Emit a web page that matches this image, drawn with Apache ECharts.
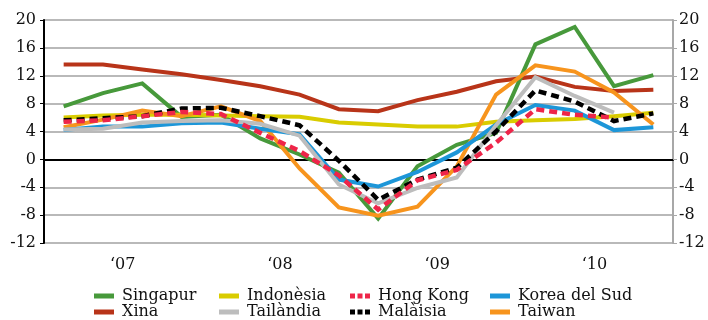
<!DOCTYPE html>
<html>
<head>
<meta charset="utf-8">
<script src="https://cdn.jsdelivr.net/npm/echarts@6/dist/echarts.min.js"></script>
<style>
  html, body { margin: 0; padding: 0; background: #fff; }
  #chart { width: 708px; height: 320px; }
</style>
</head>
<body>
<div id="chart"></div>
<script>
// Quarterly growth, 2007–2010
const quarters = ['2007T1','2007T2','2007T3','2007T4','2008T1','2008T2','2008T3','2008T4',
                  '2009T1','2009T2','2009T3','2009T4','2010T1','2010T2','2010T3','2010T4'];
const years = ['\u201807', '\u201808', '\u201809', '\u201810'];
const yTicks = { min: -12, max: 20, step: 4 };

const singapur  = [7.6, 9.5, 10.9, 6.1, 6.4, 3.0, 0.7, -1.9, -8.5, -1.0, 2.1, 3.8, 16.5, 19.0, 10.5, 12.1];
const xina      = [13.6, 13.6, 12.9, 12.2, 11.4, 10.5, 9.3, 7.2, 6.9, 8.5, 9.7, 11.2, 11.9, 10.4, 9.8, 10.0];
const indonesia = [6.0, 6.3, 6.4, 6.4, 6.3, 6.2, 6.1, 5.3, 5.0, 4.7, 4.7, 5.4, 5.6, 5.8, 6.2, 6.7];
const tailandia = [4.3, 4.4, 5.3, 5.5, 5.6, 5.1, 3.4, -3.6, -6.3, -4.1, -2.6, 4.9, 11.8, 9.1, 6.7, null];
const hongKong  = [5.4, 5.6, 6.2, 6.8, 6.5, 3.8, 1.2, -2.3, -7.2, -3.0, -1.5, 2.4, 7.2, 6.4, 6.0, null];
const malaisia  = [5.6, 5.9, 6.2, 7.3, 7.4, 6.2, 4.9, -0.2, -5.8, -2.9, -1.2, 4.0, 9.9, 8.3, 5.5, 6.6];
const korea     = [4.2, 4.7, 4.7, 5.2, 5.3, 4.4, 3.6, -2.9, -3.9, -1.8, 1.0, 5.0, 7.8, 7.0, 4.2, 4.6];
const taiwan    = [4.6, 5.7, 7.0, 6.2, 7.6, 5.5, -1.3, -6.9, -8.1, -6.8, -1.0, 9.3, 13.5, 12.6, 9.6, 5.0];

const FONT = 'DejaVu Serif';
const COLORS = {
  'Singapur': '#47993b',
  'Xina': '#b83419',
  'Indonèsia': '#d9cc00',
  'Tailàndia': '#bdbdbd',
  'Hong Kong': '#ee2549',
  'Malàisia': '#000000',
  'Korea del Sud': '#1d96d8',
  'Taiwan': '#f7941d'
};

function lineSeries(name, data, dashed) {
  return {
    name: name,
    type: 'line',
    data: data,
    symbol: 'none',
    connectNulls: false,
    color: COLORS[name],
    lineStyle: {
      color: COLORS[name],
      width: dashed ? 4.5 : 4,
      type: dashed ? [8, 5] : 'solid',
      cap: 'butt',
      join: 'miter'
    }
  };
}

// legend keys: a flat bar for solid lines, three squares for dotted ones
const dotsIcon = 'path://M0,0h5v5h-5z M7.5,0h5v5h-5z M15,0h5v5h-5z';
const barIcon = 'path://M0,0h20v5h-20z';

function legendColumn(left, names) {
  return {
    orient: 'vertical',
    left: left,
    top: 288,
    itemWidth: 20,
    itemHeight: 5,
    itemGap: 0,
    padding: 0,
    selectedMode: false,
    itemStyle: { borderWidth: 0 },
    lineStyle: { width: 0 },
    textStyle: { fontFamily: FONT, fontSize: 16, color: '#111', lineHeight: 16, padding: [0, 0, 0, 3] },
    data: names.map(n => ({
      name: n,
      icon: (n === 'Hong Kong' || n === 'Malàisia') ? dotsIcon : barIcon,
      itemStyle: { color: COLORS[n], borderWidth: 0 }
    }))
  };
}

const chart = echarts.init(document.getElementById('chart'), null, { renderer: 'canvas' });

chart.setOption({
  animation: false,
  backgroundColor: '#fff',
  grid: { left: 44, right: 35, top: 20, bottom: 77, containLabel: false },
  legend: [
    legendColumn(94, ['Singapur', 'Xina']),
    legendColumn(219, ['Indonèsia', 'Tailàndia']),
    legendColumn(350, ['Hong Kong', 'Malàisia']),
    legendColumn(490, ['Korea del Sud', 'Taiwan'])
  ],
  xAxis: [
    {
      type: 'category',
      data: quarters,
      boundaryGap: true,
      axisLine: { show: true, lineStyle: { color: '#000', width: 2 } },
      axisTick: { show: false },
      axisLabel: { show: false },
      splitLine: { show: false }
    },
    {
      type: 'category',
      data: years,
      position: 'bottom',
      boundaryGap: true,
      axisLine: { show: false },
      axisTick: { show: false },
      axisLabel: { fontFamily: FONT, fontSize: 16, color: '#111', margin: 14 },
      splitLine: { show: false }
    }
  ],
  yAxis: [
    {
      type: 'value',
      min: yTicks.min, max: yTicks.max, interval: yTicks.step,
      position: 'left',
      axisLine: { show: true, lineStyle: { color: '#000', width: 2 } },
      axisTick: { show: true, length: 4, lineStyle: { color: '#000', width: 1 } },
      axisLabel: { fontFamily: FONT, fontSize: 16, color: '#111', margin: 8 },
      splitLine: { show: true, lineStyle: { color: '#b9b9b9', width: 2 } }
    },
    {
      type: 'value',
      min: yTicks.min, max: yTicks.max, interval: yTicks.step,
      position: 'right',
      axisLine: { show: true, lineStyle: { color: '#a8a8a8', width: 2 } },
      axisTick: { show: true, length: 4, lineStyle: { color: '#a8a8a8', width: 1 } },
      axisLabel: { fontFamily: FONT, fontSize: 16, color: '#111', margin: 6 },
      splitLine: { show: false }
    }
  ],
  series: [
    lineSeries('Xina', xina),
    lineSeries('Singapur', singapur),
    lineSeries('Indonèsia', indonesia),
    lineSeries('Taiwan', taiwan),
    lineSeries('Korea del Sud', korea),
    lineSeries('Tailàndia', tailandia),
    lineSeries('Malàisia', malaisia, true),
    lineSeries('Hong Kong', hongKong, true)
  ]
});
</script>
</body>
</html>
